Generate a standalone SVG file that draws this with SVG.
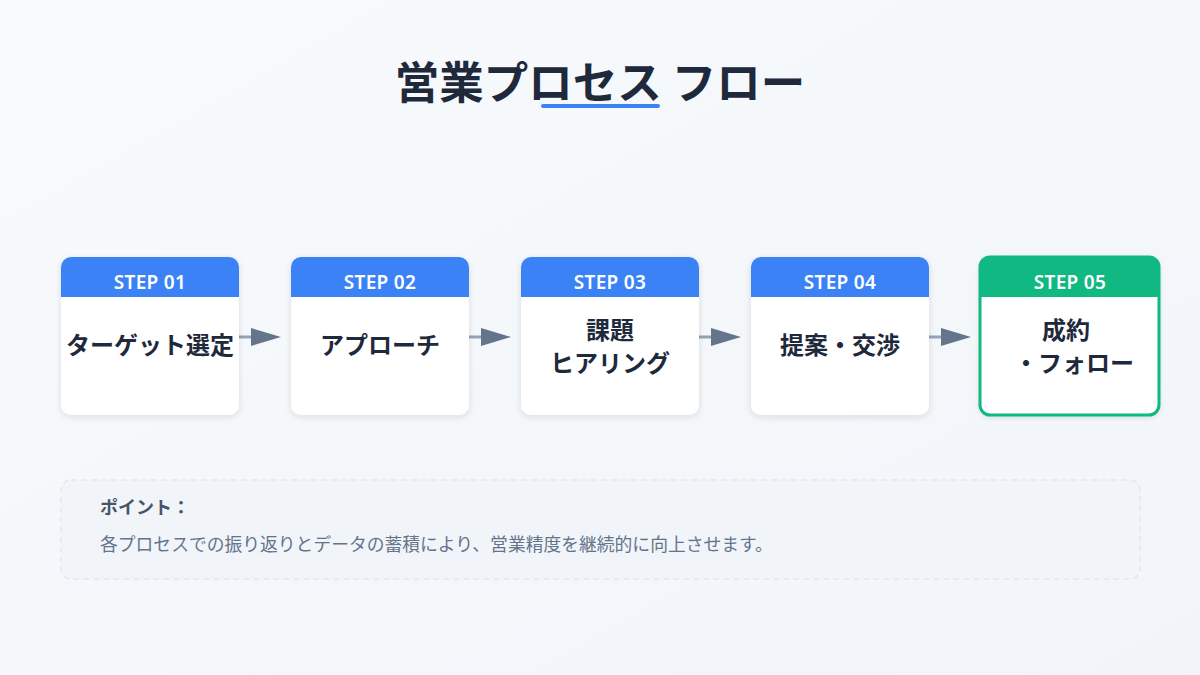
<svg xmlns="http://www.w3.org/2000/svg" width="1200" height="675" viewBox="0 0 1200 675">
<defs>
<linearGradient id="bg" x1="0" y1="0" x2="1" y2="1">
<stop offset="0" stop-color="#f8fafc"/>
<stop offset="1" stop-color="#f1f5f9"/>
</linearGradient>
<filter id="sh" x="-20%" y="-20%" width="140%" height="140%">
<feDropShadow dx="0" dy="2" stdDeviation="3" flood-color="#1e293b" flood-opacity="0.12"/>
</filter>
<clipPath id="c1"><rect x="61" y="257" width="178" height="158" rx="10"/></clipPath>
<clipPath id="c2"><rect x="291" y="257" width="178" height="158" rx="10"/></clipPath>
<clipPath id="c3"><rect x="521" y="257" width="178" height="158" rx="10"/></clipPath>
<clipPath id="c4"><rect x="751" y="257" width="178" height="158" rx="10"/></clipPath>
<clipPath id="c5"><rect x="980" y="257" width="179" height="158" rx="10"/></clipPath>
</defs>
<style>
.jp{font-family:"Noto Sans CJK JP","Noto Sans",sans-serif}
.title{font-size:44.5px;font-weight:700;fill:#1e293b}
.step{font-family:"Noto Sans","Open Sans",sans-serif;font-size:19px;letter-spacing:0.3px;font-weight:600;fill:#ffffff}
.lbl{font-size:24px;font-weight:700;fill:#1e293b}
.card{fill:#ffffff}
.conn{stroke:#94a3b8;stroke-width:3}
.head{fill:#64748b}
</style>
<rect width="1200" height="675" fill="url(#bg)"/>
<g id="title">
<text class="jp title" x="600" y="99" text-anchor="middle">営業プロセス フロー</text>
<line x1="543" y1="106" x2="658" y2="106" stroke="#3b82f6" stroke-width="4" stroke-linecap="round"/>
</g>
<g id="connectors">
<line class="conn" x1="239" y1="337" x2="256" y2="337"/>
<path class="head" d="M251,328 L281,337 L251,346 z"/>
<line class="conn" x1="469" y1="337" x2="486" y2="337"/>
<path class="head" d="M481,328 L511,337 L481,346 z"/>
<line class="conn" x1="699" y1="337" x2="716" y2="337"/>
<path class="head" d="M711,328 L741,337 L711,346 z"/>
<line class="conn" x1="929" y1="337" x2="946" y2="337"/>
<path class="head" d="M941,328 L971,337 L941,346 z"/>
</g>
<g id="step1">
<rect class="card" x="61" y="257" width="178" height="158" rx="10" filter="url(#sh)"/>
<rect x="61" y="257" width="178" height="40" fill="#3b82f6" clip-path="url(#c1)"/>
<text class="step" x="150" y="289" text-anchor="middle">STEP 01</text>
<text class="jp lbl" x="150" y="354" text-anchor="middle">ターゲット選定</text>
</g>
<g id="step2">
<rect class="card" x="291" y="257" width="178" height="158" rx="10" filter="url(#sh)"/>
<rect x="291" y="257" width="178" height="40" fill="#3b82f6" clip-path="url(#c2)"/>
<text class="step" x="380" y="289" text-anchor="middle">STEP 02</text>
<text class="jp lbl" x="380" y="354" text-anchor="middle">アプローチ</text>
</g>
<g id="step3">
<rect class="card" x="521" y="257" width="178" height="158" rx="10" filter="url(#sh)"/>
<rect x="521" y="257" width="178" height="40" fill="#3b82f6" clip-path="url(#c3)"/>
<text class="step" x="610" y="289" text-anchor="middle">STEP 03</text>
<text class="jp lbl" x="610" y="339" text-anchor="middle">課題</text>
<text class="jp lbl" x="610" y="372" text-anchor="middle">ヒアリング</text>
</g>
<g id="step4">
<rect class="card" x="751" y="257" width="178" height="158" rx="10" filter="url(#sh)"/>
<rect x="751" y="257" width="178" height="40" fill="#3b82f6" clip-path="url(#c4)"/>
<text class="step" x="840" y="289" text-anchor="middle">STEP 04</text>
<text class="jp lbl" x="840" y="354" text-anchor="middle">提案・交渉</text>
</g>
<g id="step5">
<rect class="card" x="980" y="257" width="179" height="158" rx="10" filter="url(#sh)"/>
<rect x="980" y="257" width="179" height="40" fill="#10b981" clip-path="url(#c5)"/>
<rect x="980" y="257" width="179" height="158" rx="10" fill="none" stroke="#10b981" stroke-width="3"/>
<text class="step" x="1070" y="289" text-anchor="middle">STEP 05</text>
<text class="jp lbl" x="1066" y="339" text-anchor="middle">成約</text>
<text class="jp lbl" x="1074" y="372" text-anchor="middle">・フォロー</text>
</g>
<g id="note">
<rect x="61" y="480" width="1079" height="99" rx="10" fill="#f1f5f9" stroke="#e2e8f0" stroke-width="1.5" stroke-dasharray="6 4"/>
<text class="jp" x="100" y="514" font-size="18" font-weight="700" fill="#475569">ポイント：</text>
<text class="jp" x="100" y="551" font-size="17.8" fill="#64748b">各プロセスでの振り返りとデータの蓄積により、営業精度を継続的に向上させます。</text>
</g>
</svg>
